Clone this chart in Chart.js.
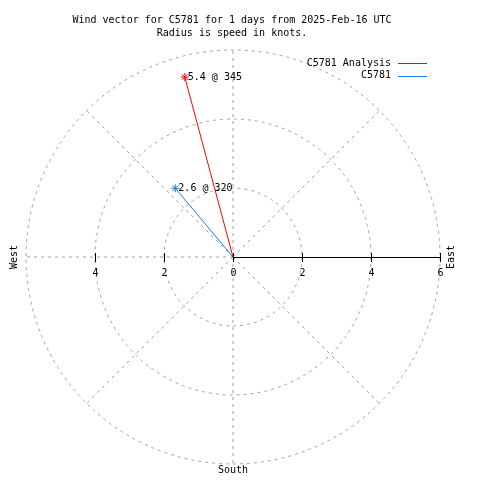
<!DOCTYPE html>
<html>
<head>
<meta charset="utf-8">
<script src="https://cdn.jsdelivr.net/npm/chart.js@4"></script>
<style>
  html, body { margin: 0; padding: 0; background: #fff; }
  #wrap { width: 480px; height: 480px; }
</style>
</head>
<body>
<div id="wrap"><canvas id="chart" width="480" height="480"></canvas></div>
<script>
// Wind vectors (speed in knots, direction in degrees from north)
const seriesNames = ['C5781 Analysis', 'C5781'];
const seriesColors = ['#ff0000', '#1a7ff0'];
const speeds = [5.4, 2.6];
const directions = [345, 320];

// Polar grid
const rings = [2, 4, 6];
const spokes = [0, 45, 90, 135, 180, 225, 270, 315];
const axisTicks = [-4, -2, 0, 2, 4, 6];
const maxSpeed = 6;

const titleLines = ['Wind vector for C5781 for 1 days from 2025-Feb-16 UTC', 'Radius is speed in knots.'];
const FONT = '10px "DejaVu Sans Mono", monospace';

function toXY(speed, dir) {
    const a = dir * Math.PI / 180;
    return { x: speed * Math.sin(a), y: speed * Math.cos(a) };
}

const datasets = speeds.map((s, i) => ({
    label: seriesNames[i],
    data: [{ x: 0, y: 0 }, toXY(s, directions[i])],
    showLine: true,
    borderColor: seriesColors[i],
    backgroundColor: seriesColors[i],
    borderWidth: 1,
    pointStyle: 'star',
    pointRadius: [0, 4],
    pointBorderWidth: 1,
    pointBorderColor: seriesColors[i]
}));

const polarPlugin = {
    id: 'polar',
    beforeDatasetsDraw(chart) {
        const ctx = chart.ctx;
        const xs = chart.scales.x, ys = chart.scales.y;
        const cx = xs.getPixelForValue(0), cy = ys.getPixelForValue(0);
        const pxPerUnit = xs.getPixelForValue(1) - cx;
        ctx.save();
        ctx.strokeStyle = '#a0a0a0';
        ctx.lineWidth = 1;
        ctx.setLineDash([3, 4]);
        rings.forEach(r => {
            ctx.beginPath();
            ctx.arc(cx, cy, r * pxPerUnit, 0, Math.PI * 2);
            ctx.stroke();
        });
        spokes.forEach(a => {
            if (a === 90) return;
            const p = toXY(maxSpeed, a);
            ctx.beginPath();
            ctx.moveTo(cx, cy);
            ctx.lineTo(xs.getPixelForValue(p.x), ys.getPixelForValue(p.y));
            ctx.stroke();
        });
        ctx.setLineDash([]);
        // solid axis to the east
        ctx.strokeStyle = '#000';
        ctx.beginPath();
        ctx.moveTo(cx, cy + 0.5);
        ctx.lineTo(xs.getPixelForValue(maxSpeed), cy + 0.5);
        ctx.stroke();
        ctx.fillStyle = '#000';
        ctx.font = FONT;
        ctx.textAlign = 'center';
        ctx.textBaseline = 'middle';
        axisTicks.forEach(t => {
            const px = Math.round(xs.getPixelForValue(t)) + 0.5;
            ctx.beginPath();
            ctx.moveTo(px, cy - 4);
            ctx.lineTo(px, cy + 5);
            ctx.stroke();
            ctx.fillText(String(Math.abs(t)), px, cy + 16);
        });
        ctx.restore();
    },
    afterDatasetsDraw(chart) {
        const ctx = chart.ctx;
        const xs = chart.scales.x, ys = chart.scales.y;
        ctx.save();
        ctx.font = FONT;
        ctx.fillStyle = '#000';
        ctx.textBaseline = 'middle';
        ctx.textAlign = 'left';
        speeds.forEach((s, i) => {
            const p = toXY(s, directions[i]);
            ctx.fillText(s.toFixed(1) + ' @ ' + directions[i], xs.getPixelForValue(p.x) + 3, ys.getPixelForValue(p.y));
        });
        // titles
        ctx.textAlign = 'center';
        titleLines.forEach((t, i) => ctx.fillText(t, 232, 20 + i * 13));
        // compass labels
        ctx.fillText('South', xs.getPixelForValue(0), 470);
        [['West', 14], ['East', 451]].forEach(([t, x]) => {
            ctx.save();
            ctx.translate(x, ys.getPixelForValue(0));
            ctx.rotate(-Math.PI / 2);
            ctx.fillText(t, 0, 0);
            ctx.restore();
        });
        // legend
        seriesNames.forEach((n, i) => {
            const y = 63 + i * 12.5;
            ctx.textAlign = 'right';
            ctx.fillStyle = '#000';
            ctx.fillText(n, 391, y);
            ctx.strokeStyle = seriesColors[i];
            ctx.lineWidth = 1;
            ctx.beginPath();
            ctx.moveTo(398, Math.round(y) + 0.5);
            ctx.lineTo(427, Math.round(y) + 0.5);
            ctx.stroke();
        });
        ctx.restore();
    }
};

new Chart(document.getElementById('chart'), {
    type: 'scatter',
    data: { datasets },
    options: {
        responsive: false,
        animation: false,
        layout: { padding: { left: 26, right: 40, top: 50, bottom: 16 } },
        plugins: { legend: { display: false }, tooltip: { enabled: false } },
        scales: {
            x: { type: 'linear', min: -maxSpeed, max: maxSpeed, display: false },
            y: { type: 'linear', min: -maxSpeed, max: maxSpeed, display: false }
        }
    },
    plugins: [polarPlugin]
});
</script>
</body>
</html>
